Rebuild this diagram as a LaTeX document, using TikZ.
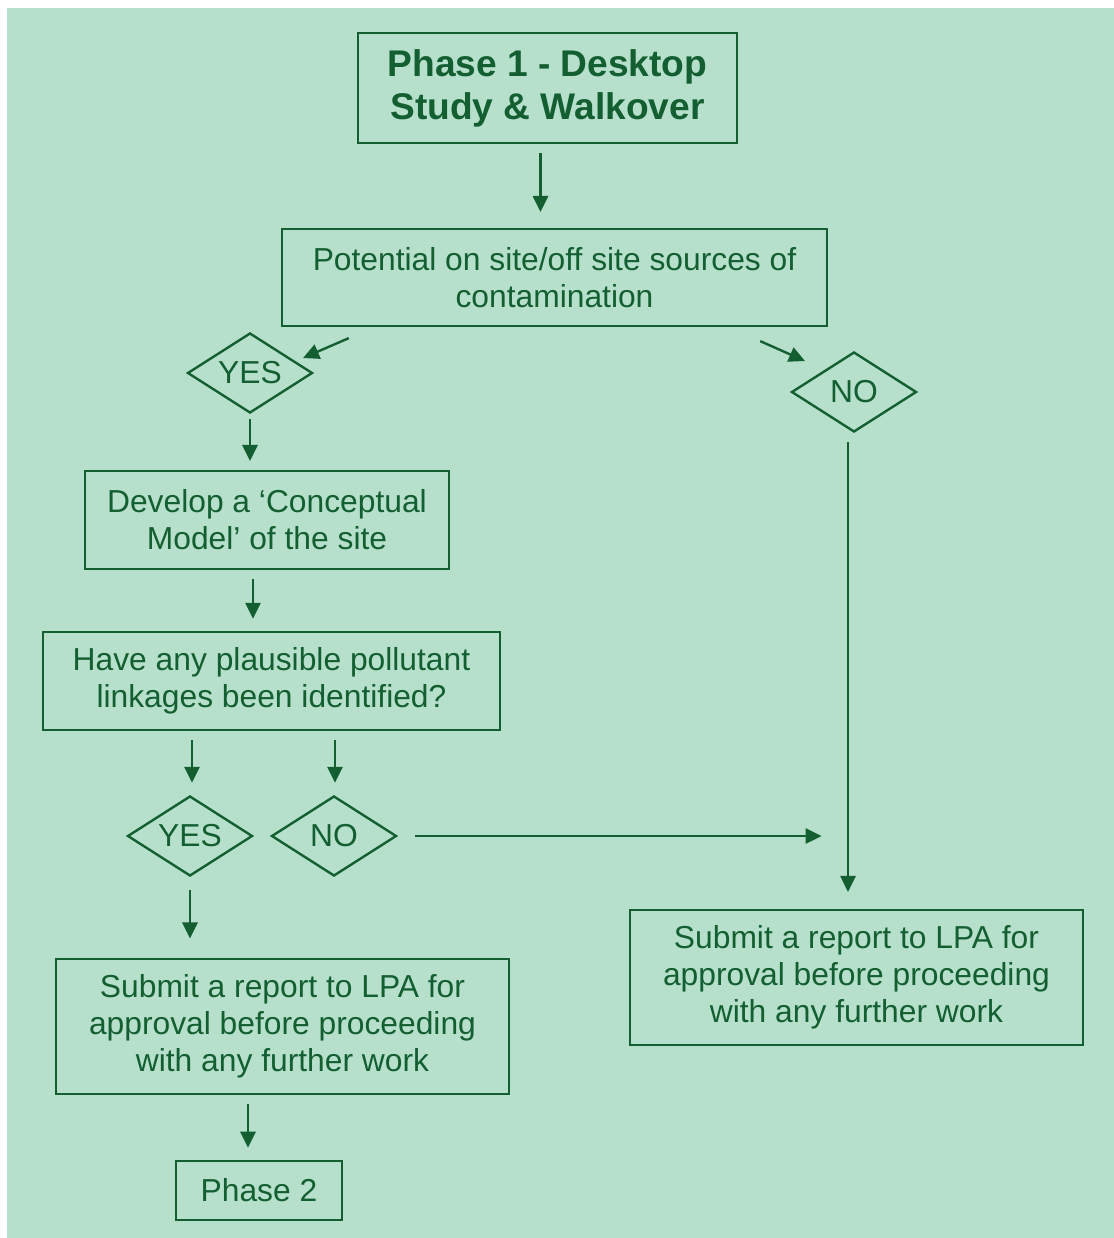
\documentclass[tikz,border=0pt]{standalone}
\usepackage{fontspec}
\setmainfont{Liberation Sans}
\usetikzlibrary{arrows.meta,shapes.geometric}
\definecolor{mint}{RGB}{182,224,203}
\definecolor{leaf}{RGB}{20,95,50}
\begin{document}
\begin{tikzpicture}[
    x=0.0125cm, y=-0.0125cm,
    every node/.style={text=leaf, font=\fontsize{11.3}{13.2}\selectfont},
    box/.style={draw=leaf, line width=0.85pt, align=center, inner sep=0pt},
    decision/.style={diamond, draw=leaf, line width=0.85pt, inner sep=0pt, aspect=1.56,
      minimum width=1.5625cm, minimum height=1cm},
    arr/.style={draw=leaf, line width=0.85pt, -{Triangle[length=2mm,width=1.9mm]},
      shorten <=0.11cm, shorten >=0.15cm}
  ]
  \useasboundingbox (0,0) rectangle (1114,1238);
  \fill[mint] (7,8) rectangle (1114,1238);

  \node[box, minimum width=4.74cm, minimum height=1.375cm,
    font=\fontsize{13.2}{15.3}\selectfont\bfseries] (phase1) at (547.5,88)
    {Phase 1 - Desktop\\Study \& Walkover};
  \node[box, minimum width=6.81cm, minimum height=1.21cm] (sources) at (554.5,277.5)
    {Potential on site/off site sources of\\contamination};
  \node[decision] (yes1) at (250,373) {YES};
  \node[decision] (no1) at (854,392) {NO};
  \node[box, minimum width=4.55cm, minimum height=1.225cm] (model) at (267,520)
    {Develop a ‘Conceptual\\Model’ of the site};
  \node[box, minimum width=5.71cm, minimum height=1.225cm] (linkages) at (271.5,681)
    {Have any plausible pollutant\\linkages been identified?};
  \node[decision] (yes2) at (190,836) {YES};
  \node[decision] (no2) at (334,836) {NO};
  \node[box, minimum width=5.66cm, minimum height=1.69cm] (reportR) at (856.5,977.5)
    {Submit a report to LPA for\\approval before proceeding\\with any further work};
  \node[box, minimum width=5.66cm, minimum height=1.69cm] (reportL) at (282.5,1026.5)
    {Submit a report to LPA for\\approval before proceeding\\with any further work};
  \node[box, minimum width=2.075cm, minimum height=0.74cm] (phase2) at (259,1190.5)
    {Phase 2};

  % Connectors
  \draw[arr, shorten >=0.2cm] ([shift={(-7,0)}]phase1.south) -- ([shift={(-7,0)}]phase1.south |- sources.north);
  \draw[arr, shorten <=0pt, shorten >=0pt] ([shift={(68,11)}]sources.south west) -- ([shift={(53,-15)}]yes1.center);
  \draw[arr, shorten <=0pt, shorten >=0pt] ([shift={(-68,14)}]sources.south east) -- ([shift={(-49,-31)}]no1.center);
  \draw[arr, shorten <=0.06cm, shorten >=0.11cm] (yes1.south) -- (yes1.south |- model.north);
  \draw[arr] ([shift={(-14,0)}]model.south) -- ([shift={(-14,0)}]model.south |- linkages.north);
  \draw[arr] ([shift={(2,0)}]yes2.north |- linkages.south) -- ([shift={(2,0)}]yes2.north);
  \draw[arr] ([shift={(1,0)}]no2.north |- linkages.south) -- ([shift={(1,0)}]no2.north);
  \draw[arr, shorten <=0.22cm, shorten >=0.33cm] (no2.east) -- ([shift={(-6,0)}]no1.south |- no2.east);
  \draw[arr, shorten >=0.21cm] ([shift={(-6,0)}]no1.south) -- ([shift={(-6,0)}]no1.south |- reportR.north);
  \draw[arr, shorten <=0.16cm, shorten >=0.24cm] (yes2.south) -- (yes2.south |- reportL.north);
  \draw[arr] ([shift={(-11,0)}]phase2.north |- reportL.south) -- ([shift={(-11,0)}]phase2.north);
\end{tikzpicture}
\end{document}
